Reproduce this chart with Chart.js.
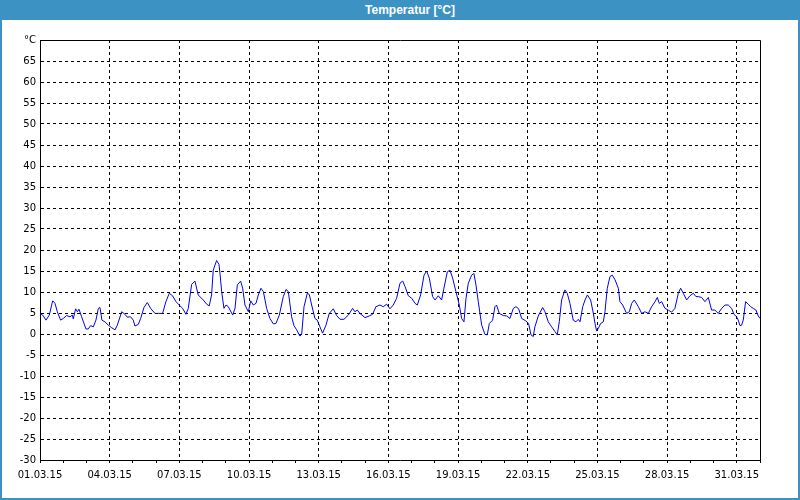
<!DOCTYPE html>
<html>
<head>
<meta charset="utf-8">
<script src="https://cdn.jsdelivr.net/npm/chart.js@4/dist/chart.umd.min.js"></script>
<style>
  html, body { margin: 0; padding: 0; background: #fff; }
  #wrap { position: relative; width: 800px; height: 500px; overflow: hidden; }
  #wrap canvas { position: absolute; left: 0; top: 0; }
  #bar {
    position: absolute; left: 0; top: 0; width: 800px; height: 20px;
    background: #3d92c4; color: #fff; box-sizing: border-box; padding-left: 20px;
    font: bold 12px "Liberation Sans", Arial, sans-serif; line-height: 20px; text-align: center;
  }
  #frame {
    position: absolute; left: 0; top: 0; width: 800px; height: 500px; box-sizing: border-box;
    border: 2px solid #3d92c4; border-top: 0; pointer-events: none;
  }
</style>
</head>
<body>
<div id="wrap">
  <canvas id="chart" width="800" height="500"></canvas>
  <div id="bar">Temperatur [°C]</div>
  <div id="frame"></div>
</div>
<script>
// hours since 01.03.15 00:00
var hours = [
  0, 2.8, 6.2, 9.6, 13.1, 15.5, 17.9, 21.3, 24.1, 27.5, 31.0, 33.4, 34.4, 36.8, 38.6, 40.3, 43.0,
  47.5, 49.9, 52.3, 55.1, 57.8, 60.3, 62.0, 64.0, 67.1, 70.6, 74.0, 77.5, 79.9, 84.4, 87.8, 90.2,
  93.6, 96.4, 98.1, 101.6, 104.0, 107.4, 110.9, 114.3, 118.8, 122.2, 126.7, 130.1, 133.6, 137.0,
  140.5, 143.9, 147.4, 150.8, 153.2, 156.7, 160.1, 163.5, 168.7, 172.2, 174.9, 177.3, 179.0,
  182.5, 184.9,
  186.0, 187.7, 190.1, 192.2, 194.6, 199.1, 201.5, 203.9, 207.3, 209.4, 211.8, 215.3, 217.7,
  220.4, 223.2, 225.6, 228.3, 230.8, 234.2, 237.6, 241.1, 243.8, 247.3, 251.4, 254.2, 256.6,
  260.0, 262.4, 265.2, 268.6, 270.4, 272.8, 276.2, 278.3, 280.7, 284.1, 286.5, 289.3, 292.0,
  295.5, 298.9, 303.1, 306.5, 310.0, 314.1, 318.6, 323.0, 325.4, 327.9, 330.6, 335.8, 340.2,
  343.7, 347.1, 351.3, 354.7, 358.2, 361.6, 365.0, 368.5,
  372.0, 374.8, 377.2, 380.6, 384.1, 387.5, 389.9, 393.3, 396.8, 399.5, 402.3, 405.7, 408.2,
  411.6, 415.0, 417.4, 420.9, 423.6, 426.4, 429.8, 433.3, 435.7, 438.1, 440.2, 442.6, 446.0,
  448.4, 450.5, 452.9, 456.4, 459.8, 462.2, 464.3, 467.7, 470.1, 471.8, 474.6, 478.7, 482.2,
  485.6, 489.1, 491.8, 494.6, 497.7, 502.1, 504.9, 507.3, 509.7, 511.4, 514.9, 519.4, 521.8,
  525.2, 528.7, 532.1, 534.5, 536.6, 539.0, 542.4, 544.8, 547.6, 551.0, 553.8, 556.2,
  558.0, 560.8, 563.2, 565.6, 569.0, 571.8, 573.5, 575.2, 576.9, 579.3, 582.1, 583.8, 586.2,
  589.0, 591.4, 594.2, 597.6, 599.3, 602.1, 606.2, 609.0, 611.4, 614.1, 618.3, 621.7, 625.1,
  628.6, 632.0, 635.5, 637.9, 639.9, 642.4, 645.8, 649.2, 652.7, 656.1, 659.6, 662.0, 664.7,
  668.2, 671.6, 675.1, 677.8, 680.2, 683.7, 687.1, 690.6, 694.0, 697.4, 700.9, 704.3, 707.8,
  711.2, 714.7, 717.1, 719.8, 721.5, 723.3, 725.0, 726.7, 729.1, 731.9, 734.3, 737.0, 739.8,
  742.2, 744.0
];
var temps = [
  4.9, 4.5, 3.3, 4.5, 7.9, 7.3, 5.3, 3.3, 3.7, 4.4, 4.1, 4.5, 3.6, 6.0, 5.3, 5.9, 4.1,
  1.2, 1.2, 2.0, 1.7, 3.3, 6.1, 6.3, 3.3, 2.9, 2.1, 1.5, 1.0, 2.1, 5.3, 4.7, 4.0,
  4.1, 3.3, 1.9, 2.3, 3.7, 6.3, 7.5, 6.1, 4.9, 4.9, 4.9, 7.7, 9.7, 9.1,
  7.7, 6.9, 6.1, 4.7, 6.1, 11.8, 12.6, 9.3, 8.1, 7.1, 6.7, 9.3, 15.2,
  17.5, 16.6,
  14.4, 10.1, 6.1, 6.9, 6.5, 4.5, 6.1, 11.7, 12.6, 10.9, 6.9, 5.3, 7.9,
  6.9, 7.3, 9.3, 10.9, 10.1, 6.1, 3.7, 2.4, 2.5, 4.5, 8.9, 10.6, 10.1,
  4.1, 2.0, 1.0, -0.5, -0.1, 6.5, 9.7, 9.4, 6.9, 3.7, 3.3, 1.7, 0.2,
  2.1, 4.9, 6.0, 4.4, 3.5, 3.5, 4.5, 6.1, 5.3, 5.7, 4.9, 3.9, 4.3,
  4.7, 6.5, 6.9, 6.5, 7.1, 6.0, 6.9, 8.5,
  12.1, 12.6, 11.3, 9.1, 8.5, 7.3, 6.9, 9.3, 14.0, 15.0, 13.3, 8.9, 8.1,
  9.1, 8.1, 10.9, 14.8, 15.2, 13.3, 10.1, 6.9, 3.7, 2.9, 8.5, 12.1, 14.0,
  14.4, 11.7, 7.7, 2.1, -0.1, -0.2, 2.5, 3.3, 6.5, 6.9, 4.9, 4.4, 4.3,
  3.7, 6.1, 6.5, 6.0, 3.7, 3.1, 2.5, -0.2, -0.6, 1.7, 4.3, 6.3, 5.3,
  2.9, 1.7, 0.6, -0.2, 2.9, 8.1, 10.5, 9.7, 7.3, 3.3, 2.9, 3.5,
  2.9, 6.5, 8.1, 9.3, 8.1, 4.9, 2.5, 0.7, 1.3, 2.5, 2.9, 5.3, 10.9,
  13.7, 14.0, 12.9, 10.9, 7.7, 6.9, 4.9, 5.3, 7.3, 8.1, 6.5, 4.9, 5.3,
  4.9, 6.5, 7.7, 8.7, 7.3, 7.7, 6.1, 5.7, 5.2, 6.1, 9.7, 10.9, 9.7,
  8.1, 9.1, 9.7, 8.9, 8.9, 8.7, 7.7, 8.7, 5.7, 5.7, 4.9, 6.1, 6.9,
  6.9, 6.1, 4.7, 4.1, 3.3, 2.0, 2.1, 3.3, 7.7, 7.1, 6.5, 6.1, 5.7,
  4.3, 3.7
];
var dateLabels = ['01.03.15', '04.03.15', '07.03.15', '10.03.15', '13.03.15', '16.03.15',
  '19.03.15', '22.03.15', '25.03.15', '28.03.15', '31.03.15'];
var yMin = -30, yMax = 70, yStep = 5, yUnit = '°C';

var points = hours.map(function (h, i) { return { x: h, y: temps[i] }; });

var plotFrame = {
  id: 'plotFrame',
  afterDraw: function (c) {
    var a = c.chartArea, ctx = c.ctx;
    ctx.save();
    ctx.strokeStyle = '#000';
    ctx.lineWidth = 1;
    ctx.beginPath();
    ctx.moveTo(Math.round(a.left) + 0.5, Math.round(a.top) + 0.5);
    ctx.lineTo(Math.round(a.right) + 0.5, Math.round(a.top) + 0.5);
    ctx.lineTo(Math.round(a.right) + 0.5, Math.round(a.bottom) + 0.5);
    ctx.stroke();
    ctx.restore();
  }
};

Chart.defaults.font.family = '"DejaVu Sans", Verdana, sans-serif';
Chart.defaults.font.size = 10;
Chart.defaults.color = '#000';

new Chart(document.getElementById('chart'), {
  type: 'line',
  data: {
    datasets: [{
      data: points,
      borderColor: '#0000f0',
      borderWidth: 1,
      pointRadius: 0,
      tension: 0,
      fill: false
    }]
  },
  options: {
    responsive: false,
    animation: false,
    layout: { padding: { top: 40, left: 2, right: 40, bottom: 2 } },
    plugins: { legend: { display: false }, tooltip: { enabled: false }, title: { display: false } },
    scales: {
      x: {
        type: 'linear',
        min: 0,
        max: 744,
        afterFit: function (s) { s.height = 38; },
        ticks: {
          stepSize: 24,
          autoSkip: false,
          maxRotation: 0,
          padding: 6,
          callback: function (v) { return v % 72 === 0 ? dateLabels[v / 72] : ''; }
        },
        grid: {
          color: function (ctx) { return ctx.tick && ctx.tick.value % 72 === 0 ? '#000' : 'rgba(0,0,0,0)'; },
          tickColor: '#000',
          tickLength: 3,
          lineWidth: 1
        },
        border: { display: true, color: '#000', width: 1, dash: [3, 3] }
      },
      y: {
        min: yMin,
        max: yMax,
        afterFit: function (s) { s.width = 38; },
        ticks: {
          stepSize: yStep,
          padding: 4,
          callback: function (v) { return v === yMax ? yUnit : v; }
        },
        grid: { color: '#000', drawTicks: false, lineWidth: 1 },
        border: { display: true, color: '#000', width: 1, dash: [3, 3] }
      }
    }
  },
  plugins: [plotFrame]
});
</script>
</body>
</html>
